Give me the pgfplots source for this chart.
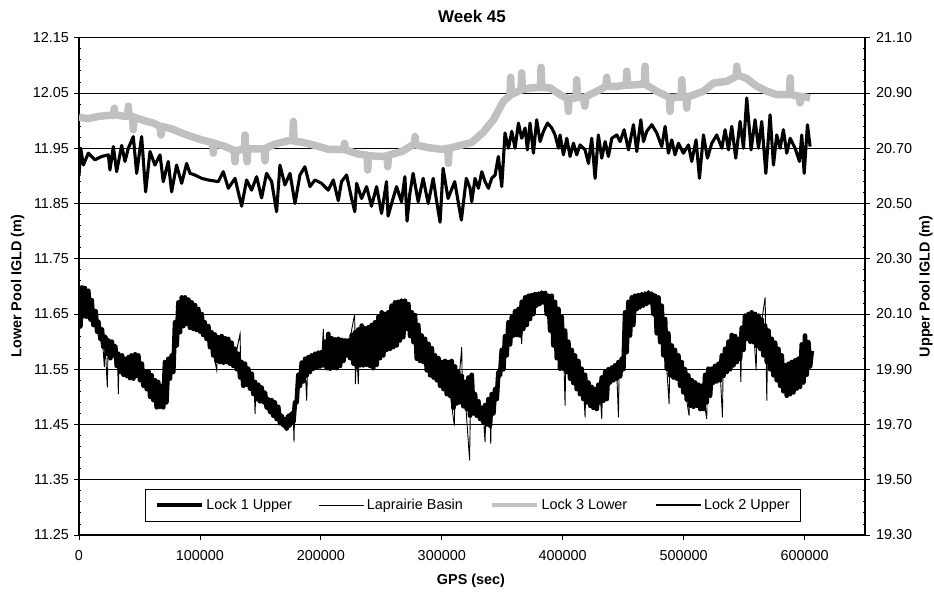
\documentclass[border=0pt]{standalone}
\usepackage{pgfplots}
\pgfplotsset{compat=1.18}
\usepackage{fontspec}
\setmainfont{Liberation Sans}
\definecolor{silver}{RGB}{192,192,192}
\newcommand\chartfont{\fontsize{14.4bp}{17bp}\selectfont}
\pgfplotsset{
  lockaxis/.style={
    scale only axis, width=786bp, height=497.3bp,
    at={(0bp,0bp)}, anchor=south west,
    xmin=0, xmax=650000,
    tick label style={font=\chartfont},
    /pgf/number format/assume math mode=true,
    major tick length=4.5bp, minor tick length=2.5bp,
    tick align=outside,
    tick style={black, line width=0.8bp},
    axis line style={black, line width=1.1bp},
    minor y tick num=4,
    y tick label style={/pgf/number format/fixed, /pgf/number format/fixed zerofill, /pgf/number format/precision=2},
    legend cell align=left,
  }
}
\begin{document}
\begin{tikzpicture}
% left axis: lower pool levels (Lock 1 upper pool / Laprairie Basin)
\begin{axis}[lockaxis,
  ymin=11.25, ymax=12.15,
  ytick={11.25,11.35,11.45,11.55,11.65,11.75,11.85,11.95,12.05,12.15},
  xtick={0,100000,200000,300000,400000,500000,600000},
  scaled x ticks=false,
  x tick label style={/pgf/number format/fixed, /pgf/number format/1000 sep={}, yshift=-7bp},
  y tick label style={xshift=-2bp},
  axis y line*=left, axis x line*=bottom,
  minor tick style={xshift=2.5bp},
  ymajorgrids, major grid style={black, line width=0.8bp},
  title={Week 45},
  title style={font=\fontsize{17bp}{20bp}\selectfont\bfseries, at={(axis description cs:0.5,1.031)}, anchor=center},
  xlabel={GPS (sec)},
  xlabel style={font=\chartfont\bfseries, at={(axis description cs:0.4987,-0.0925)}, anchor=center},
  ylabel={Lower Pool IGLD (m)},
  every axis y label/.style={font=\chartfont\bfseries, at={(axis description cs:-0.0782,0.5)}, anchor=center, rotate=90},
]
% Lock 1 Upper
\addplot[black, line width=4.6bp, line join=round] coordinates {
(0,11.697) (1200,11.628) (2400,11.698) (3600,11.646) (4800,11.697) (6200,11.645)
(7700,11.692) (9500,11.640) (10500,11.675) (11900,11.630) (13800,11.655) (15000,11.618)
(16000,11.636) (17800,11.604) (19000,11.622) (20100,11.590) (21800,11.609) (23200,11.578)
(24300,11.602) (26000,11.570) (27200,11.600) (28400,11.575) (30000,11.592) (31200,11.556)
(32500,11.578) (34000,11.545) (35600,11.575) (36800,11.540) (38000,11.569) (39500,11.538)
(41000,11.572) (42200,11.534) (43300,11.575) (45000,11.533) (46500,11.577) (47800,11.538)
(49100,11.575) (50500,11.530) (52000,11.560) (53300,11.520) (54600,11.545) (56000,11.514)
(57500,11.546) (58800,11.500) (60100,11.539) (61500,11.494) (63000,11.530) (64200,11.481)
(65500,11.527) (66800,11.482) (68400,11.520) (69700,11.481) (71100,11.563) (72300,11.490)
(73900,11.569) (75200,11.533) (76600,11.575) (78000,11.545) (79400,11.635) (80800,11.593)
(82200,11.671) (83500,11.617) (85000,11.680) (86300,11.628) (87700,11.680) (89000,11.632)
(90500,11.676) (91800,11.625) (93200,11.671) (94600,11.623) (96000,11.666) (97300,11.621)
(98700,11.659) (100200,11.618) (101500,11.650) (102700,11.612) (104000,11.635) (105500,11.605)
(107000,11.628) (108300,11.590) (109600,11.617) (111000,11.575) (112300,11.613) (113700,11.565)
(115000,11.608) (116500,11.563) (118000,11.610) (119500,11.562) (121000,11.606) (122200,11.563)
(123400,11.605) (124800,11.560) (126200,11.598) (127600,11.556) (129000,11.587) (130400,11.550)
(131800,11.578) (133200,11.535) (134500,11.563) (135900,11.520) (137300,11.560) (138600,11.522)
(140000,11.551) (141400,11.515) (142800,11.542) (144200,11.505) (145600,11.527) (147000,11.496)
(148300,11.522) (149600,11.492) (151000,11.517) (152400,11.490) (153800,11.508) (155200,11.480)
(156600,11.496) (158000,11.472) (159400,11.494) (160700,11.466) (162000,11.490) (163400,11.460)
(164800,11.482) (166200,11.452) (167600,11.466) (169000,11.448) (170400,11.460) (171700,11.442)
(173100,11.466) (174400,11.448) (175800,11.470) (177300,11.454) (178600,11.490) (180000,11.490)
(181400,11.540) (182800,11.520) (184200,11.562) (185600,11.528) (187000,11.569) (188300,11.539)
(189700,11.572) (191000,11.545) (192400,11.575) (193800,11.551) (195200,11.578) (196600,11.553)
(198000,11.580) (199300,11.555) (200700,11.581) (202100,11.557) (203400,11.600) (204800,11.552)
(206200,11.614) (207600,11.551) (209000,11.606) (210300,11.553) (211700,11.604) (213100,11.552)
(214500,11.605) (215900,11.556) (217300,11.603) (218700,11.565) (220000,11.602) (221400,11.575)
(222800,11.602) (224200,11.570) (225600,11.612) (227000,11.560) (228300,11.617) (229700,11.555)
(231000,11.622) (232400,11.557) (233800,11.629) (235200,11.557) (236600,11.624) (238000,11.558)
(239300,11.626) (240700,11.556) (242000,11.630) (243400,11.552) (244800,11.635) (246200,11.558)
(247600,11.645) (249000,11.570) (250300,11.653) (251700,11.575) (253000,11.650) (254400,11.585)
(255800,11.653) (257200,11.587) (258500,11.665) (259900,11.590) (261300,11.671) (262700,11.593)
(264000,11.672) (265400,11.602) (266800,11.674) (268200,11.608) (269600,11.674) (271000,11.623)
(272400,11.668) (273800,11.610) (275200,11.653) (276600,11.599) (277900,11.648) (279300,11.569)
(280600,11.630) (282000,11.565) (283400,11.611) (284800,11.563) (286200,11.605) (287600,11.548)
(289000,11.596) (290400,11.539) (291800,11.588) (293200,11.535) (294500,11.575) (295900,11.530)
(297300,11.570) (298600,11.520) (300000,11.563) (301400,11.514) (302700,11.565) (304100,11.505)
(305400,11.563) (306800,11.502) (308200,11.565) (309700,11.480) (311000,11.555) (312400,11.488)
(313700,11.545) (315100,11.490) (316500,11.538) (317900,11.483) (319300,11.527) (320700,11.478)
(322000,11.535) (323400,11.466) (324800,11.540) (326200,11.470) (327500,11.505) (328900,11.466)
(330300,11.492) (331700,11.460) (333000,11.480) (334400,11.454) (335800,11.485) (337200,11.450)
(338600,11.496) (339900,11.448) (341300,11.505) (342700,11.470) (344100,11.514) (345500,11.496)
(346800,11.545) (348200,11.539) (349600,11.585) (351000,11.550) (352300,11.610) (353700,11.575)
(355100,11.635) (356500,11.595) (357900,11.645) (359200,11.611) (360600,11.655) (362000,11.612)
(363400,11.659) (364800,11.611) (366100,11.672) (367500,11.623) (368900,11.680) (370300,11.630)
(371700,11.683) (373000,11.641) (374400,11.684) (375800,11.650) (377100,11.686) (378500,11.665)
(379900,11.687) (381300,11.668) (382700,11.689) (384100,11.671) (385500,11.688) (386800,11.650)
(388200,11.683) (389600,11.620) (391000,11.683) (392300,11.593) (393700,11.672) (395100,11.570)
(396500,11.659) (397800,11.551) (399200,11.645) (400600,11.551) (402000,11.620) (403300,11.545)
(404700,11.600) (406100,11.533) (407500,11.585) (408800,11.525) (410200,11.575) (411600,11.514)
(413000,11.565) (414300,11.505) (415700,11.551) (417100,11.496) (418500,11.540) (419900,11.490)
(421300,11.526) (422700,11.484) (424000,11.518) (425400,11.480) (426800,11.514) (428200,11.478)
(429500,11.522) (430900,11.490) (432300,11.535) (433700,11.493) (435100,11.545) (436400,11.496)
(437800,11.550) (439200,11.526) (440600,11.553) (442000,11.530) (443300,11.557) (444700,11.533)
(446100,11.563) (447500,11.537) (448800,11.569) (450200,11.550) (451600,11.653) (452900,11.581)
(454300,11.672) (455700,11.611) (457100,11.680) (458400,11.630) (459800,11.683) (461300,11.659)
(462600,11.684) (464000,11.662) (465400,11.686) (466800,11.665) (468100,11.687) (469500,11.668)
(470900,11.689) (472300,11.671) (473700,11.687) (475000,11.650) (476400,11.683) (477800,11.615)
(479200,11.680) (480600,11.599) (481900,11.665) (483300,11.575) (484700,11.641) (486100,11.551)
(487400,11.615) (488800,11.539) (490200,11.593) (491600,11.535) (492900,11.585) (494300,11.533)
(495700,11.575) (497100,11.520) (498400,11.563) (499800,11.508) (501200,11.550) (502600,11.495)
(503900,11.539) (505400,11.484) (506800,11.530) (508200,11.482) (509500,11.526) (510900,11.484)
(512300,11.522) (513700,11.478) (515000,11.520) (516400,11.478) (517800,11.540) (519100,11.490)
(520500,11.551) (521900,11.502) (523300,11.551) (524700,11.526) (526000,11.556) (527400,11.528)
(528800,11.560) (530200,11.530) (531600,11.575) (533000,11.538) (534300,11.587) (535700,11.545)
(537100,11.600) (538500,11.550) (539800,11.612) (541200,11.557) (542600,11.610) (544000,11.563)
(545300,11.605) (546700,11.569) (548100,11.625) (549500,11.585) (550800,11.647) (552200,11.605)
(553600,11.650) (555000,11.600) (556300,11.653) (557700,11.599) (559100,11.650) (560500,11.592)
(561900,11.647) (563300,11.587) (564600,11.640) (566000,11.575) (567400,11.629) (568800,11.563)
(570200,11.620) (571500,11.550) (572900,11.605) (574300,11.539) (575700,11.598) (577000,11.530)
(578400,11.587) (579800,11.520) (581200,11.575) (582500,11.510) (583900,11.557) (585300,11.502)
(586700,11.560) (588100,11.505) (589400,11.563) (590800,11.508) (592200,11.566) (593600,11.515)
(594900,11.569) (596300,11.518) (597700,11.595) (599100,11.526) (600400,11.611) (601800,11.540)
(603200,11.599) (604600,11.555) (606000,11.583)
};
% Laprairie Basin
\addplot[black, line width=0.9bp] coordinates {
(0,11.660) (1500,11.623) (3000,11.670) (7700,11.665) (11900,11.645) (16000,11.620)
(19500,11.600) (20950,11.554) (21500,11.600) (23430,11.517) (24000,11.585) (28400,11.585)
(32000,11.560) (32530,11.505) (33000,11.560) (38000,11.555) (43300,11.555) (49100,11.555)
(54600,11.530) (60100,11.515) (64200,11.500) (68400,11.500) (71100,11.520) (73900,11.550)
(76600,11.555) (79400,11.610) (82200,11.640) (87700,11.655) (93200,11.645) (98700,11.640)
(104000,11.620) (109600,11.595) (113900,11.548) (114500,11.585) (123400,11.583) (129000,11.570)
(133200,11.614) (133800,11.545) (140000,11.535) (145000,11.510) (145600,11.469) (146200,11.510)
(151000,11.503) (156600,11.484) (162000,11.475) (167600,11.457) (170400,11.451) (173100,11.457)
(177300,11.460) (177800,11.418) (178300,11.470) (180000,11.505) (182800,11.538) (187000,11.554)
(188300,11.493) (189000,11.556) (192400,11.563) (200700,11.569) (202100,11.623) (202700,11.570)
(206200,11.580) (214500,11.578) (222800,11.590) (228000,11.650) (228600,11.523) (229500,11.588)
(231000,11.523) (231800,11.590) (239300,11.590) (244800,11.593) (250300,11.614) (255800,11.620)
(261300,11.632) (266800,11.640) (271000,11.648) (275200,11.626) (279300,11.603) (283400,11.587)
(289000,11.567) (294500,11.554) (300000,11.538) (305400,11.532) (310400,11.448) (311000,11.520)
(313700,11.517) (316500,11.590) (317000,11.510) (319300,11.502) (323000,11.385) (323800,11.500)
(328900,11.481) (334400,11.466) (335800,11.418) (336400,11.470) (339900,11.472) (340500,11.415)
(341100,11.480) (344100,11.505) (348200,11.554) (353700,11.600) (359200,11.630) (364800,11.635)
(366100,11.596) (366800,11.640) (373000,11.662) (378500,11.675) (384100,11.680) (388200,11.660)
(392300,11.637) (396500,11.605) (400600,11.593) (402000,11.484) (402600,11.585) (406100,11.560)
(411600,11.540) (417100,11.520) (418500,11.463) (419100,11.515) (422700,11.502) (426800,11.493)
(430900,11.508) (432300,11.460) (432900,11.510) (435100,11.520) (439200,11.538) (444700,11.545)
(446100,11.463) (446700,11.550) (448800,11.554) (451600,11.617) (455700,11.645) (461300,11.670)
(466800,11.675) (472300,11.680) (476400,11.660) (480600,11.638) (484700,11.596) (488000,11.487)
(488600,11.566) (494300,11.554) (499800,11.532) (504500,11.466) (505100,11.510) (510900,11.502)
(516400,11.500) (519100,11.460) (519700,11.520) (524700,11.538) (530200,11.546) (532100,11.463)
(532700,11.556) (535700,11.566) (541200,11.587) (546700,11.587) (547300,11.527) (547900,11.590)
(552200,11.626) (557700,11.626) (560000,11.548) (560600,11.620) (563300,11.617) (567400,11.680)
(568000,11.600) (568800,11.493) (569400,11.596) (574300,11.572) (579800,11.553) (585300,11.530)
(590800,11.536) (594900,11.545) (599100,11.570) (603200,11.575) (606000,11.575)
};
\end{axis}
% right axis: upper pool levels (Lake Saint-Louis side)
\begin{axis}[lockaxis,
  ymin=19.30, ymax=21.10,
  ytick={19.30,19.50,19.70,19.90,20.10,20.30,20.50,20.70,20.90,21.10},
  y tick label style={xshift=3bp},
  axis y line*=right, axis x line=none,
  minor tick style={xshift=-2.5bp},
  ylabel={Upper Pool IGLD (m)},
  every axis y label/.style={font=\chartfont\bfseries, at={(axis description cs:1.0776,0.5)}, anchor=center, rotate=90},
  legend columns=4,
  legend image code/.code={\draw (0bp,0bp) -- (45bp,0bp);},
  legend style={at={(axis description cs:0.5013,0.0603)}, anchor=center,
    draw=black, line width=0.8bp, fill=white, font=\chartfont,
    inner xsep=10bp, inner ysep=8bp,
    nodes={inner xsep=1bp, inner ysep=2bp},
    /tikz/every odd column/.append style={column sep=1bp},
    /tikz/every even column/.append style={column sep=26bp}},
]
\addlegendimage{black, line width=4bp}
\addlegendimage{black, line width=0.9bp}
% Lock 3 Lower
\addplot[silver, line width=7.5bp, line join=round,
  legend image code/.code={\draw[line width=4.7bp] (0bp,0bp) -- (45bp,0bp);}] coordinates {
(0,20.812) (7700,20.807) (16000,20.815) (24300,20.819) (28600,20.819) (29200,20.845)
(29800,20.821) (38000,20.815) (40200,20.816) (40800,20.852) (41400,20.819) (44300,20.815)
(44900,20.767) (45500,20.812) (54600,20.799) (61500,20.791) (67000,20.779) (67800,20.748)
(68600,20.779) (76600,20.770) (84900,20.755) (93200,20.742) (101500,20.730) (110500,20.720)
(111100,20.682) (111700,20.718) (120800,20.706) (128400,20.692) (129000,20.651) (129600,20.690)
(136700,20.698) (137300,20.748) (137900,20.698) (139000,20.651) (139600,20.698) (148300,20.698)
(153200,20.698) (153800,20.654) (154400,20.700) (162100,20.715) (173100,20.727) (176700,20.727)
(177300,20.797) (177900,20.725) (184200,20.722) (195200,20.710) (206200,20.696) (219000,20.696)
(219600,20.718) (220200,20.694) (231000,20.679) (238200,20.675) (238800,20.621) (239400,20.673)
(250300,20.670) (254700,20.672) (255300,20.633) (255900,20.675) (266900,20.688) (277300,20.715)
(277900,20.742) (278500,20.712) (288900,20.702) (300000,20.696) (304900,20.700) (305500,20.645)
(306100,20.700) (313700,20.708) (324800,20.721) (334400,20.758) (342700,20.803) (351000,20.870)
(356400,20.890) (357000,20.957) (357600,20.895) (365500,20.910) (366100,20.973) (366700,20.912)
(373000,20.918) (381500,20.920) (382100,20.993) (382700,20.920) (389600,20.918) (397800,20.894)
(404100,20.879) (404700,20.833) (405300,20.879) (411000,20.882) (411600,20.948) (412200,20.884)
(417100,20.884) (418300,20.852) (418900,20.886) (428200,20.906) (435800,20.924) (436400,20.957)
(437000,20.924) (444700,20.924) (452400,20.928) (453000,20.979) (453600,20.928) (461300,20.930)
(467500,20.933) (468100,20.997) (468700,20.930) (477800,20.906) (488200,20.884) (488800,20.833)
(489400,20.884) (497900,20.885) (498500,20.948) (499100,20.885) (502000,20.882) (502600,20.845)
(503200,20.885) (516400,20.906) (524700,20.936) (535700,20.942) (543400,20.960) (544000,20.997)
(544600,20.965) (552200,20.952) (560500,20.924) (568800,20.906) (577000,20.894) (587500,20.894)
(588100,20.955) (588700,20.894) (595700,20.888) (596300,20.864) (596900,20.888) (604600,20.882)
};
% Lock 2 Upper
\addplot[black, line width=3.1bp, line join=round,
  legend image code/.code={\draw[line width=2.7bp] (0bp,0bp) -- (45bp,0bp);}] coordinates {
(0,20.600) (1400,20.700) (3600,20.639) (7700,20.682) (13200,20.658) (18700,20.670)
(24300,20.676) (25600,20.621) (28400,20.706) (31100,20.615) (35300,20.710) (38000,20.652)
(40800,20.700) (44900,20.742) (47700,20.609) (51800,20.742) (55100,20.542) (58700,20.688)
(62800,20.639) (67000,20.676) (69700,20.579) (73800,20.652) (76600,20.542) (80700,20.639)
(84900,20.573) (89000,20.645) (91800,20.609) (95900,20.603) (101400,20.591) (106900,20.585)
(115200,20.579) (119300,20.615) (123500,20.555) (129000,20.591) (134500,20.490) (138600,20.585)
(142700,20.548) (146900,20.597) (151000,20.520) (155100,20.609) (159300,20.579) (163400,20.470)
(166200,20.639) (170300,20.567) (174500,20.609) (178600,20.500) (182700,20.603) (186800,20.633)
(191000,20.561) (195100,20.585) (200600,20.573) (206100,20.548) (210300,20.585) (214400,20.510)
(217100,20.579) (221300,20.603) (225400,20.518) (228100,20.470) (229600,20.573) (233700,20.518)
(237800,20.561) (241900,20.490) (246100,20.561) (250200,20.464) (254300,20.579) (255600,20.454)
(258500,20.500) (262600,20.561) (266700,20.506) (269500,20.597) (271300,20.436) (273600,20.536)
(276300,20.609) (280500,20.506) (284600,20.591) (288800,20.500) (292900,20.591) (295600,20.512)
(298600,20.432) (301100,20.627) (305200,20.518) (310700,20.579) (316200,20.440) (320300,20.591)
(323400,20.555) (324800,20.506) (327500,20.591) (330300,20.555) (333100,20.615) (335800,20.579)
(338600,20.555) (341300,20.591) (344100,20.603) (346800,20.670) (349600,20.561) (352300,20.755)
(355100,20.700) (357900,20.761) (360600,20.700) (363400,20.791) (366100,20.736) (368900,20.773)
(370800,20.694) (373000,20.791) (375800,20.682) (378500,20.803) (381300,20.724) (384100,20.761)
(387400,20.791) (391000,20.773) (393700,20.748) (396500,20.700) (397800,20.748) (400600,20.676)
(403400,20.736) (406100,20.670) (408900,20.718) (411600,20.676) (414400,20.712) (418500,20.694)
(421300,20.645) (424000,20.736) (426800,20.591) (429500,20.748) (432300,20.664) (435100,20.724)
(437800,20.670) (440600,20.736) (444700,20.748) (447500,20.724) (450800,20.767) (454400,20.694)
(458500,20.785) (461300,20.688) (464600,20.803) (466800,20.724) (469500,20.761) (473700,20.785)
(477800,20.755) (481900,20.706) (484700,20.779) (487400,20.682) (490200,20.730) (492900,20.676)
(495700,20.718) (499800,20.682) (504000,20.712) (506700,20.652) (510300,20.730) (513100,20.591)
(516400,20.748) (519700,20.664) (523300,20.718) (527400,20.748) (531600,20.700) (534300,20.767)
(537100,20.694) (539800,20.779) (543100,20.664) (546700,20.797) (549500,20.700) (552200,20.882)
(555800,20.694) (559100,20.803) (561900,20.700) (564600,20.797) (568000,20.609) (571500,20.821)
(574300,20.639) (577000,20.748) (579800,20.700) (582500,20.767) (585300,20.682) (588100,20.736)
(592200,20.700) (595800,20.652) (597700,20.748) (599700,20.609) (602400,20.785) (604600,20.706)
};
\legend{Lock 1 Upper, Laprairie Basin, Lock 3 Lower, Lock 2 Upper}
\end{axis}
\pgfresetboundingbox
\useasboundingbox (-79bp,-58bp) rectangle (855bp,535bp);
\end{tikzpicture}
\end{document}
